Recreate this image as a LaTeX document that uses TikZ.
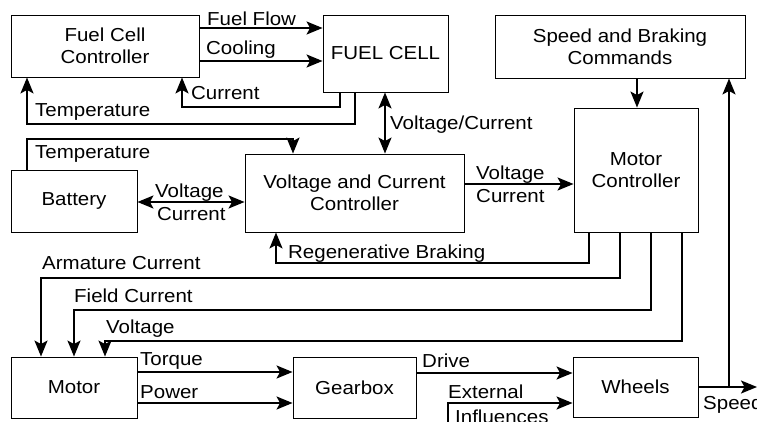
\documentclass[tikz,border=0pt]{standalone}
\usepackage{fontspec}
\setmainfont{Liberation Sans}[FakeStretch=1.09]
\usetikzlibrary{arrows.meta}
\newcommand{\fs}{\fontsize{18.8}{22}\selectfont}
\begin{document}
\begin{tikzpicture}[x=1pt,y=-1pt,
  box/.style={draw, line width=0.9pt, inner sep=0pt, align=center, font=\fs},
  conn/.style={line width=1.8pt},
  arr/.style={conn, -{Stealth[length=16pt,width=13pt,inset=3.5pt]}},
  darr/.style={conn, {Stealth[length=16pt,width=13pt,inset=3.5pt]}-{Stealth[length=16pt,width=13pt,inset=3.5pt]}},
  lab/.style={anchor=base west, inner sep=0pt, font=\fs}]
\useasboundingbox (0,0) rectangle (757,422);
\clip (0,0) rectangle (757,422);
\fill[white] (0,0) rectangle (757,422);
% boxes
\node[box, minimum width=188pt, minimum height=62pt] (fcc) at (105,46) {Fuel Cell\\Controller};
\node[box, minimum width=125pt, minimum height=77pt] (fc) at (385.5,53.5) {FUEL CELL};
\node[box, minimum width=250pt, minimum height=63pt] (sbc) at (620,46.5) {Speed and Braking\\Commands};
\node[box, minimum width=124pt, minimum height=124pt] (mc) at (636,170) {Motor\\Controller};
\node[box, minimum width=126pt, minimum height=62pt] (bat) at (74,201) {Battery};
\node[box, minimum width=219pt, minimum height=78pt] (vcc) at (354.5,193) {Voltage and Current\\Controller};
\node[box, minimum width=126pt, minimum height=61pt] (motor) at (74,387.5) {Motor};
\node[box, minimum width=123pt, minimum height=61pt] (gear) at (354.5,387.5) {Gearbox};
\node[box, minimum width=125pt, minimum height=60pt] (wheels) at (635.5,387) {Wheels};
\coordinate (ext) at (448,430);
\coordinate (spd) at (757,387);
% connectors
\draw[arr] (fcc.east |- 0,28) -- (fc.west |- 0,28);
\draw[arr] (fcc.east |- 0,61) -- (fc.west |- 0,61);
\draw[arr] (fc.south -| 340,0) |- (182,107) -- (fcc.south -| 182,0);
\draw[arr] (fc.south -| 355,0) |- (27,124) -- (fcc.south -| 27,0);
\draw[darr] (fc.south -| 385,0) -- (vcc.north -| 385,0);
\draw[arr] (sbc.south -| 637,0) -- (mc.north -| 637,0);
\draw[arr] (bat.north -| 27,0) |- (293,139) -- (vcc.north -| 293,0);
\draw[darr] (bat.east |- 0,202) -- (vcc.west |- 0,202);
\draw[arr] (vcc.east |- 0,184) -- (mc.west |- 0,184);
\draw[arr] (mc.south -| 589,0) |- (276,263) -- (vcc.south -| 276,0);
\draw[arr] (mc.south -| 620,0) |- (41,278) -- (motor.north -| 41,0);
\draw[arr] (mc.south -| 651,0) |- (74,310) -- (motor.north -| 74,0);
\draw[arr] (mc.south -| 682,0) |- (105,341) -- (motor.north -| 105,0);
\draw[arr] (motor.east |- 0,372) -- (gear.west |- 0,372);
\draw[arr] (motor.east |- 0,403) -- (gear.west |- 0,403);
\draw[arr] (gear.east |- 0,373) -- (wheels.west |- 0,373);
\draw[arr] (ext) |- (wheels.west |- 0,403);
\draw[arr] (wheels.east |- spd) -- (spd);
\draw[arr] (spd -| 729,0) -- (sbc.south -| 729,0);
% labels
\node[lab] (l1) at (207,26) {Fuel Flow};
\node[lab] (l2) at (206,55) {Cooling};
\node[lab] (l3) at (191,100) {Current};
\node[lab] (l4) at (35,117) {Temperature};
\node[lab] (l5) at (390,130) {Voltage/Current};
\node[lab] (l6) at (35,159) {Temperature};
\node[lab] (l7) at (155,197) {Voltage};
\node[lab] (l8) at (157,220) {Current};
\node[lab] (l9) at (476,180) {Voltage};
\node[lab] (l10) at (476,203) {Current};
\node[lab] (l11) at (288,258) {Regenerative Braking};
\node[lab] (l12) at (42,269) {Armature Current};
\node[lab] (l13) at (74,302) {Field Current};
\node[lab] (l14) at (106,333) {Voltage};
\node[lab] (l15) at (140,365) {Torque};
\node[lab] (l16) at (140,398) {Power};
\node[lab] (l17) at (422,367) {Drive};
\node[lab] (l18) at (448,398) {External};
\node[lab] (l19) at (455,423) {Influences};
\node[lab] (l20) at (703,409) {Speed};
\end{tikzpicture}
\end{document}
